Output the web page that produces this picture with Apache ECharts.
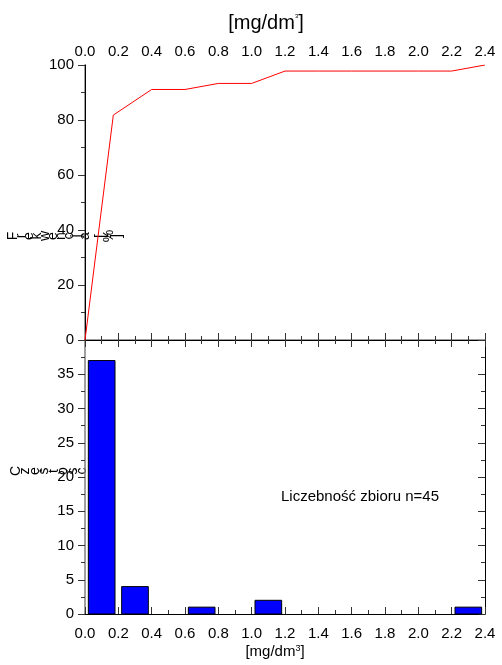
<!DOCTYPE html>
<html>
<head>
<meta charset="utf-8">
<script src="https://cdn.jsdelivr.net/npm/echarts@6/dist/echarts.min.js"></script>
<style>html,body{margin:0;padding:0;background:#fff}#c{width:502px;height:665px}</style>
</head>
<body>
<div id="c"></div>
<script>
// ---- data ----
var cumX = [0, 0.17, 0.4, 0.6, 0.8, 1.0, 1.2, 1.4, 1.6, 1.8, 2.0, 2.2, 2.4];
var cumY = [0, 81.8, 91.1, 91.1, 93.3, 93.3, 97.8, 97.8, 97.8, 97.8, 97.8, 97.8, 100];
var binCenters = [0.1, 0.3, 0.5, 0.7, 0.9, 1.1, 1.3, 1.5, 1.7, 1.9, 2.1, 2.3];
var binCounts  = [37, 4, 0, 1, 0, 2, 0, 0, 0, 0, 0, 1];
var binWidth = 0.16;
var xTicks = ['0.0','0.2','0.4','0.6','0.8','1.0','1.2','1.4','1.6','1.8','2.0','2.2','2.4'];
var topYName = 'Frekwencja [%]';
var botYName = 'Częstość';
var noteText = 'Liczebność zbioru n=45';

var FONT = 'Liberation Sans, Arial, sans-serif';
var chart = echarts.init(document.getElementById('c'), null, {renderer: 'canvas'});

var lineData = cumX.map(function (x, i) { return [x, cumY[i]]; });
var barData = binCenters.map(function (x, i) { return [x, binCounts[i]]; });

function xLab(v) { return v.toFixed(1); }

var gray = '#808080';
var graphics = [];
topYName.split('').forEach(function (ch, i) {
  graphics.push({type: 'text', x: 13 + i * 8, y: 236, rotation: Math.PI / 2,
    style: {text: ch, font: '14px ' + FONT, fill: '#000', textAlign: 'center', textVerticalAlign: 'middle'}});
});
botYName.split('').forEach(function (ch, i) {
  graphics.push({type: 'text', x: 16 + i * 9.5, y: 471, rotation: Math.PI / 2,
    style: {text: ch, font: '14px ' + FONT, fill: '#000', textAlign: 'center', textVerticalAlign: 'middle'}});
});
graphics.push({type: 'text', x: 360, y: 497,
  style: {text: noteText, font: '15px ' + FONT, fill: '#000', textAlign: 'center', textVerticalAlign: 'middle'}});

var option = {
  animation: false,
  backgroundColor: '#fff',
  grid: [
    {left: 85, right: 17, top: 65, height: 275},
    {left: 85, right: 17, top: 340, height: 274}
  ],
  xAxis: [
    {gridIndex: 0, type: 'value', position: 'top', min: 0, max: 2.4, interval: 0.2,
     name: '[mg/dm{s|3}]', nameLocation: 'middle', nameGap: 32,
     nameTextStyle: {fontFamily: FONT, fontSize: 20, color: '#000', padding: [0, 38, 0, 0],
       rich: {s: {fontSize: 6, verticalAlign: 'top', fontFamily: FONT, color: '#000'}}},
     axisLine: {show: true, lineStyle: {color: gray, width: 1.5}},
     axisTick: {show: true, inside: true, length: 7, lineStyle: {color: '#333'}},
     minorTick: {show: true, splitNumber: 2, length: 4, lineStyle: {color: '#333'}},
     axisLabel: {show: true, margin: 6, fontFamily: FONT, fontSize: 15, color: '#000', formatter: xLab},
     splitLine: {show: false}},
    {gridIndex: 0, type: 'value', position: 'bottom', min: 0, max: 2.4, interval: 0.2,
     axisLine: {show: true, lineStyle: {color: '#000', width: 1}},
     axisTick: {show: true, inside: true, length: 7, lineStyle: {color: '#333'}},
     minorTick: {show: true, splitNumber: 2, length: 4, lineStyle: {color: '#333'}},
     axisLabel: {show: false}, splitLine: {show: false}},
    {gridIndex: 1, type: 'value', position: 'bottom', min: 0, max: 2.4, interval: 0.2,
     name: '[mg/dm{s|3}]', nameLocation: 'middle', nameGap: 30,
     nameTextStyle: {fontFamily: FONT, fontSize: 15, color: '#000', padding: [0, 20, 0, 0],
       rich: {s: {fontSize: 9, verticalAlign: 'top', fontFamily: FONT, color: '#000'}}},
     axisLine: {show: true, lineStyle: {color: '#000', width: 1}},
     axisTick: {show: true, inside: true, length: 7, lineStyle: {color: '#333'}},
     minorTick: {show: true, splitNumber: 2, length: 4, lineStyle: {color: '#333'}},
     axisLabel: {show: true, margin: 12, fontFamily: FONT, fontSize: 15, color: '#000', formatter: xLab},
     splitLine: {show: false}}
  ],
  yAxis: [
    {gridIndex: 0, type: 'value', position: 'left', min: 0, max: 100, interval: 20,
     axisLine: {show: true, lineStyle: {color: gray, width: 1.5}},
     axisTick: {show: true, inside: false, length: 7, lineStyle: {color: '#333'}},
     minorTick: {show: true, splitNumber: 2, length: 4, lineStyle: {color: '#333'}},
     axisLabel: {margin: 11, fontFamily: FONT, fontSize: 15, color: '#000'},
     splitLine: {show: false}},
    {gridIndex: 0, type: 'value', position: 'right', min: 0, max: 100, interval: 20,
     axisLine: {show: true, lineStyle: {color: '#000', width: 1}},
     axisTick: {show: true, inside: true, length: 7, lineStyle: {color: '#333'}},
     minorTick: {show: true, splitNumber: 2, length: 4, lineStyle: {color: '#333'}},
     axisLabel: {show: false}, splitLine: {show: false}},
    {gridIndex: 1, type: 'value', position: 'left', min: 0, max: 40, interval: 5,
     axisLine: {show: true, lineStyle: {color: gray, width: 1.5}},
     axisTick: {show: true, inside: false, length: 7, lineStyle: {color: '#333'}},
     minorTick: {show: true, splitNumber: 2, length: 4, lineStyle: {color: '#333'}},
     axisLabel: {margin: 11, fontFamily: FONT, fontSize: 15, color: '#000',
       formatter: function (v) { return v === 40 ? '' : String(v); }},
     splitLine: {show: false}},
    {gridIndex: 1, type: 'value', position: 'right', min: 0, max: 40, interval: 5,
     axisLine: {show: true, lineStyle: {color: '#000', width: 1}},
     axisTick: {show: true, inside: true, length: 7, lineStyle: {color: '#333'}},
     minorTick: {show: true, splitNumber: 2, length: 4, lineStyle: {color: '#333'}},
     axisLabel: {show: false}, splitLine: {show: false}}
  ],
  series: [
    {type: 'line', xAxisIndex: 0, yAxisIndex: 0, data: lineData, showSymbol: false, symbol: 'none',
     lineStyle: {color: '#ff0000', width: 1}, z: 5},
    {type: 'custom', xAxisIndex: 2, yAxisIndex: 2, data: barData,
     renderItem: function (params, api) {
       var c = api.value(0), v = api.value(1);
       if (!v) return null;
       var p0 = api.coord([c - binWidth / 2, v]);
       var p1 = api.coord([c + binWidth / 2, 0]);
       return {type: 'rect', shape: {x: p0[0], y: p0[1], width: p1[0] - p0[0], height: p1[1] - p0[1]},
         style: {fill: '#0000ff', stroke: '#000', lineWidth: 1}};
     }}
  ],
  graphic: graphics
};
chart.setOption(option);
</script>
</body>
</html>
